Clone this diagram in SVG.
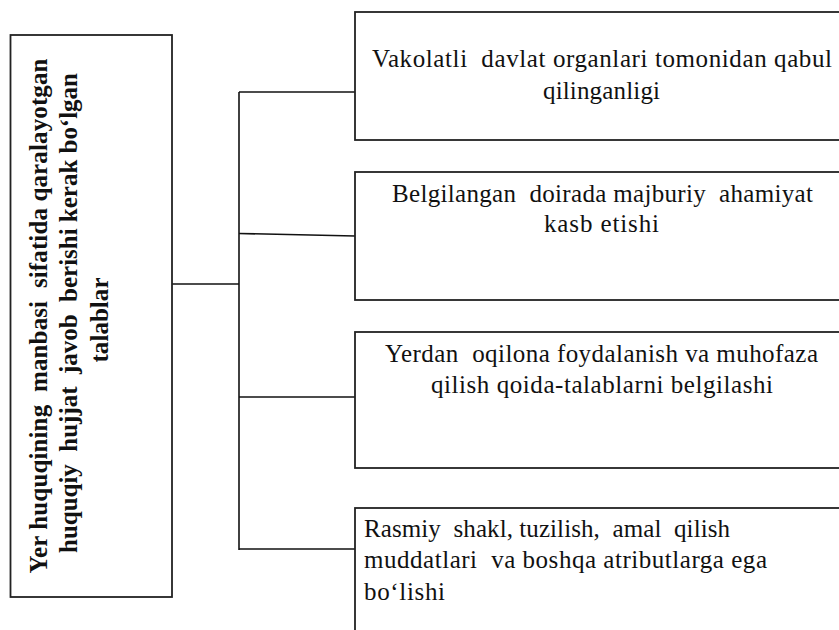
<svg xmlns="http://www.w3.org/2000/svg" width="839" height="630" viewBox="0 0 839 630">
<style>
.box{fill:#fff;stroke:#222;stroke-width:1.8}
.con{fill:none;stroke:#111;stroke-width:1.6}
.t{font-family:"Liberation Serif","Times New Roman",serif;font-size:25px;fill:#111}
.c{text-anchor:middle}
.b{font-weight:bold}
</style>
<rect width="839" height="630" fill="#fff"/>
<g id="connectors">
<line class="con" x1="172" y1="284" x2="239" y2="284"/>
<line class="con" x1="239" y1="92" x2="239" y2="550"/>
<line class="con" x1="239" y1="92" x2="355" y2="92"/>
<path class="con" d="M239 233.5 L355 236"/>
<line class="con" x1="239" y1="397" x2="355" y2="397"/>
<line class="con" x1="239" y1="549" x2="355" y2="549"/>
</g>
<g id="main">
<rect class="box" x="10.5" y="35" width="161.5" height="562"/>
<g transform="translate(0,316) rotate(-90)">
<text class="t b c" x="0" y="47" textLength="515" xml:space="preserve">Yer huquqining  manbasi  sifatida qaralayotgan</text>
<text class="t b c" x="3" y="77" textLength="480" xml:space="preserve">huquqiy  hujjat  javob  berishi kerak bo‘lgan</text>
<text class="t b c" x="-4" y="108" textLength="85">talablar</text>
</g>
</g>
<g id="n1">
<rect class="box" x="355" y="12" width="500" height="128"/>
<text class="t c" x="602" y="66.5" textLength="460" xml:space="preserve">Vakolatli  davlat organlari tomonidan qabul</text>
<text class="t c" x="601.5" y="98.5" textLength="117">qilinganligi</text>
</g>
<g id="n2">
<rect class="box" x="355" y="172" width="500" height="128"/>
<text class="t c" x="602.5" y="201.5" textLength="421" xml:space="preserve">Belgilangan  doirada majburiy  ahamiyat</text>
<text class="t c" x="601.5" y="232" textLength="115">kasb etishi</text>
</g>
<g id="n3">
<rect class="box" x="355" y="332" width="500" height="136"/>
<text class="t c" x="601.5" y="361.5" textLength="433" xml:space="preserve">Yerdan  oqilona foydalanish va muhofaza</text>
<text class="t c" x="602" y="393" textLength="342">qilish qoida-talablarni belgilashi</text>
</g>
<g id="n4">
<rect class="box" x="355" y="508" width="500" height="140"/>
<text class="t" x="364" y="536.5" textLength="366" xml:space="preserve">Rasmiy  shakl, tuzilish,  amal  qilish</text>
<text class="t" x="364" y="568" textLength="403" xml:space="preserve">muddatlari  va boshqa atributlarga ega</text>
<text class="t" x="364" y="599.5" textLength="81">bo‘lishi</text>
</g>
</svg>
